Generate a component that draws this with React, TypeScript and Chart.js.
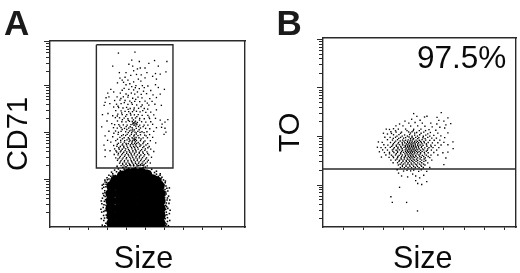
import React, { useEffect, useRef } from "react";
import { Chart, registerables } from "chart.js";

Chart.register(...registerables);

type P = [number, number];

const panelLetters = ["A", "B"];
const yLabels = ["CD71", "TO"];
const xLabel = "Size";
const xLabelCenters = [49.2, 49.5];
const percentLabel = "97.5%";
const percentPos: P = [91, 84];

const xTicks = [10, 20, 30, 40, 50, 60, 70, 80, 90];
const aYMinor = [7.6, 12.1, 15.2, 17.7, 19.7, 21.4, 22.9, 24.2, 25.3, 32.9, 37.4, 40.5, 43, 45, 46.7, 48.2, 49.5, 50.6, 58.2, 62.7, 65.8, 68.3, 70.3, 72, 73.5, 74.8, 75.9, 83.5, 88, 91.1, 93.6, 95.6, 97.3, 98.8, 100];
const aYMajor = [25.3, 50.6, 75.9, 100];
const bYMinor = [4.3, 8.8, 12, 14.4, 16.4, 18.1, 19.6, 20.9, 22.2, 30, 34.5, 37.7, 40.1, 42.1, 43.8, 45.3, 46.6, 47.9, 55.7, 60.2, 63.4, 65.8, 67.8, 69.5, 71, 72.3, 73.6, 81.4, 85.9, 89.1, 91.5, 93.5, 95.2, 96.7, 98, 99.3];
const bYMajor = [22.2, 47.9, 73.6, 99.3];

const aGate: P[] = [[24.4, 98], [64.7, 98], [64.7, 31.7], [24.4, 31.7], [24.4, 98]];
const bGate: P[] = [[0, 30.7], [96, 30.7]];

const aBlobCore: P[] = [
  [32.5,2],[36.5,2],[40,2],[44,2],[48,2],[52,2],[55,2],[58,2],
  [32.5,6],[36.5,6],[40,6],[44,6],[48,6],[52,6],[55,6],[58,6],
  [32,10],[36.5,10],[40,10],[44,10],[48,10],[52,10],[55,10],[58,10],
  [32,14],[36.5,14],[40,14],[44,14],[48,14],[52,14],[55,14],[58,14],
  [32,18],[36.5,18],[40,18],[44,18],[48,18],[52,18],[55,18],[58,18],
  [32.5,22],[36.5,22],[40,22],[44,22],[48,22],[52,22],[55,22],[57.5,22],
  [34.5,25],[38,25.5],[42,25.5],[46,25.5],[50,25.5],[54,25.5],[56,24.5],
  [38,27.5],[41,28.5],[44.5,29],[48,29],[51,28],
];
const aBlobEdge: P[] = [
  [27.5,1],[28.3,3.5],[29.4,2],[30,5],[28.2,6.2],[27.2,8],[29,8.8],[30.3,7.5],[28,10.5],[27.3,12.5],[29.5,11.7],[28.6,13.8],[30.2,13.2],[27.6,15.5],[29,16.4],[30.4,16],[27.9,18],[28.8,19.5],[30,19],[27.5,20.7],[29.4,21.6],[30.6,21],[28.2,23],[29.8,24],[30.8,23.4],[28.9,25.2],[31,25.8],[30,26.5],[32,27.3],[31,27.8],[33,28.6],[32.4,29.5],[34.3,27.7],[35,29.7],[34,30.6],[36.2,28.5],[37,30.3],[36,31.2],[38,29.4],[39,31],[38.3,32],[35.3,32.6],[40,32.4],[41.5,31.6],[43,31.2],[45,32],[47.2,31.5],[49,31.9],[51,30.3],[52.5,29.8],[53.5,31],[55,29.3],[56,28.4],[54.6,27.6],[57,27.2],[58,28.6],[56,30],[58.4,26],[59.7,25.3],[60.6,23.8],[59,24],[61,22],[59.5,21.7],[60.5,20.2],[62,19.4],[59.7,18.6],[61.1,17.7],[62.4,16.6],[60.3,15.7],[61.6,14.5],[59.8,13.6],[62.6,12.7],[60.9,11.6],[62,10],[59.9,9.4],[61.2,8],[62.8,7.2],[60.4,6.3],[61.8,5],[63,3.5],[60,3],[61.3,1.6],[62.3,0.7],[59.5,0.8],
  [27,4.5],[26.8,9.5],[27,14],[27.5,22.5],[62.8,21],[63,14.5],[63.2,9],[30.6,10],[31,3.2],[31,17.2],[59.2,16.5],[59.5,7],[58.9,11.5],
  [28.9,0.7],[30.5,2.6],[28.7,4.8],[29.6,6.4],[30.8,5.9],[28.3,8.3],[29.8,10],[30.9,11.7],[28.4,12],[29.2,14.7],[30.9,14.8],[28.3,16.9],[30.1,17.6],[28.9,18.4],[30.9,19.8],[28.3,21.4],[29.5,23],[31.2,22.4],[29,24.2],[30.2,25.4],[31.8,24.8],[32.5,26.2],[33.5,26.5],[33.2,27.7],
  [60.9,0.8],[60.5,2.2],[61.8,3],[60.6,4.4],[60,5.4],[61.5,6.6],[60.1,7.7],[60.9,9.5],[61.4,10.9],[60.1,11.1],[61.2,12.9],[60.2,14.4],[61.8,15.6],[60.4,17],[60.9,18.8],[61.5,20.8],[60,22.6],[60.7,24.7],[58.9,26.7],[57.9,27.8],
  [37.7,28.2],[39.2,29.8],[40.9,30.3],[42.3,30.8],[44.3,31],[46.2,30.7],[48,30.6],[49.8,30.8],[50.5,29.7],[44,33],[46.5,33],[42,33.4],[48.5,33.2],[50.2,32.2],
];
const aSparse: P[] = [
  [36,93.5],[44.7,94],[33,86.5],[43,89.7],[47,89],[61.5,89],[55,89.5],[52,88],[41.5,87.5],[43.5,86.5],[46,85],[50,85.5],[57,86.5],[47.5,85.5],[44,84],[61,83.4],[36.5,83],[40,83],[39.5,80.5],[42.5,81.5],[45.5,82],[48,81.8],[51,83],[55.5,82.5],[58,82.2],
  [36.8,80],[38,79],[41,79],[46.5,79.5],[50,80.2],[54,81],[56,79.5],[44,78],[47.8,78.4],[35.5,77.5],[40,76.5],[42,77],[43,75.5],[45.2,76],[48.6,76],[51.5,75.8],[55.5,76.5],[57,75],[39,74.5],[38,73.5],[41.5,74],[44,73.7],[47,74.4],[46,72.6],[49.2,73],[53,73.4],[32,74],[30.4,72],[60.2,74],[33.5,72.6],[37,72],[40,71.5],[42.8,72],[44.6,71.4],[48,71.3],[50.8,71.7],[54.2,71],[58,71.4],
  [29.5,69.5],[31,70],[35.3,70],[38.6,70],[41,69.8],[43.5,69.2],[46.3,69.8],[48.4,69.4],[52.5,69],[56,69.6],[34,68],[36.8,68.2],[39.5,68],[42,67.7],[44.6,67.5],[47.2,67.4],[50,67.7],[53.7,67.5],[29,67],[28.5,65.4],[31.5,66.3],[35,66],[37.4,66.3],[41,65.9],[43.3,65.9],[45.6,65.6],[48.5,65.6],[52,65.5],[55.2,66],[58.6,65.4],
  [33.5,64.5],[36.1,64.2],[38.4,64],[40.3,64.3],[42.2,63.7],[44.3,64],[46.6,63.8],[49.6,63.7],[51.4,63.4],[56,63],[34.6,62.6],[37.4,62.4],[39.5,62.2],[41.4,62],[43.4,62],[45.5,62.2],[47.4,61.9],[50.4,61.6],[53,61.8],[35.7,60.7],[38,60.4],[40.4,60.4],[42.5,60.2],[44.4,60.3],[46.4,60.4],[48.5,60],[51.5,60],[54.6,60.3],[27.6,60.4],[30.5,61],[33,59.8],
  [34.4,58.8],[36.6,58.7],[39,58.5],[41,58.2],[43.2,58.6],[45,58.6],[47.2,58.4],[49.6,58.2],[52.4,58.3],[55.5,58.4],[58,57.5],[30,57],[35.5,57],[37.8,56.6],[40,56.5],[41.8,56.8],[43.3,56.7],[44.2,56],[45,56.9],[46,56.2],[48.2,56.6],[50.4,56.4],[53,56.6],[62,57.7],[32.5,55.6],[34,55],[36.2,55],[38.6,54.9],[40.6,54.8],[42.6,55],[43.6,55.4],[44.7,55.3],[45.7,55.1],[47.2,54.8],[49.5,54.8],[51.5,54.8],[54,55.2],[59,55.3],[60.5,56.4],[27.2,53.8],[33.4,53.4],[35.4,53.2],[37.4,53.4],[39.2,53],[41.4,53.2],[43.2,53.4],[45.4,53],[47.6,53.2],[50.3,53],[52.5,52.8],[56,53.4],[58.7,53.6],[60.5,53.1],
  [31,51.5],[34.5,51.6],[37.4,51.4],[39.8,51.2],[41.8,51.6],[43.6,51.6],[44.7,51],[46.2,51.4],[48.4,51.2],[51,51.2],[54.6,51.4],[61,51],[35.8,49.8],[38.6,49.6],[40.6,49.8],[42.8,49.8],[44.4,49.5],[45.4,49.9],[47.6,49.6],[49.8,49.4],[52.4,49.7],[60,49.8],[29,49],[33,48.5],[36.8,48.2],[39,48],[41.2,48],[43.2,48],[44.4,47.8],[45.3,48.1],[46.8,48],[49,47.9],[51.3,48],[54,48.2],[30.3,46.6],[34.6,46.4],[37.2,46.6],[39.3,46.4],[40.5,46.8],[42.1,46.5],[43.4,46.3],[44.3,46.6],[45.5,46.5],[47.6,46.4],[50,46.3],[52.8,46.4],[32,45.6],[36,45],[38.3,44.7],[40,45],[41.2,44.8],[43,44.9],[44.5,45],[45.6,44.9],[47,44.7],[48.9,44.9],[51.4,44.8],[55.6,45.2],
  [28.4,44],[33.5,43.8],[35.2,43.4],[37,43.3],[38.8,43.4],[40.5,43.5],[42.3,43.5],[44,43.3],[45.4,43.5],[47.3,43.4],[49.4,43.3],[52.2,43.3],[34,42],[36.4,41.8],[38,41.8],[39.8,42],[41.3,41.7],[43.1,42],[44.8,41.8],[46.4,41.9],[48.2,41.6],[50.2,42],[53,41.9],[29,41.4],[31.6,41],[35.1,40.3],[37,40.4],[38.8,40.2],[40.4,40.4],[42,40.2],[43.6,40.4],[45.3,40.3],[47,40.2],[48.8,40.3],[51,40.4],[54.6,40.6],[33.8,39],[35.8,38.8],[37.7,38.8],[39.6,38.8],[41.1,39],[42.8,38.8],[44.3,38.8],[46,38.8],[47.8,38.7],[49.8,38.9],[52,38.8],
  [29,37.8],[34.6,37.2],[36.6,37.2],[38.5,37.2],[40.3,37.3],[42,37.4],[43.6,37.3],[45.2,37.2],[47,37.2],[48.7,37.3],[50.8,37.2],[53.4,37.5],[35.5,35.8],[37.4,35.7],[39.2,35.7],[41,35.8],[42.7,35.7],[44.2,35.9],[45.9,35.7],[47.7,35.7],[49.6,35.7],[51.7,35.9],[36.6,34.3],[38.2,34.2],[40,34.3],[41.6,34.2],[43.4,34.4],[45,34.2],[46.6,34.3],[48.4,34.2],[50.3,34.3],[52.8,34.4],[37.4,33],[39,32.9],[40.8,33],[42.5,32.9],[44,33],[45.8,32.8],[47.4,33],[49.2,32.9],[51.2,32.9],
];
const aSparseExtra: P[] = [
  [38.7,77.8],[44.9,74.9],[41.2,70.8],[49.6,74.9],[37.3,69.1],[45.1,68.6],[42.9,66.8],[39.1,66.9],[51.2,66.6],[35.8,64.9],[47.9,64.7],[44.1,62.9],[41.1,63.2],[37.7,61.3],[48.8,62.6],[42.3,61.1],[45.7,59.3],[39.8,59.5],[35.4,59.7],[52.1,59.1],[43.9,57.6],[41.2,57.3],[47.1,57.5],[38.1,57.7],[44.6,56.4],[43.8,55.9],[45.3,55.7],[44.2,54.6],[45.1,54.2],[42.2,53.9],[46.6,54],[40.1,54],[36.7,54.2],[49,54],
  [43.5,52.6],[44.4,52.2],[42.6,52.1],[46.9,52.3],[40.4,52.4],[38,52.4],[36,50.9],[41.2,50.7],[43,50.8],[45.4,50.6],[47.4,50.9],[49.5,50.7],[33.6,50.4],[44.1,48.9],[42,49],[46.3,49.1],[39.8,49.2],[37.7,49.1],[50.6,49],[43.7,47.4],[45,47.1],[44.4,46.9],[41.7,47.3],[47.9,47.3],[38.1,47.4],[35.5,47.2],[43.2,45.7],[44.9,45.8],[41.6,45.9],[39.1,45.6],[46.4,45.5],[49.3,45.7],[37.2,45.6],[43.7,44.3],[45,44.2],[42.3,44.2],[40.2,44.3],[47.8,44.1],[38,44.1],[35.4,44.4],[50.5,44.1],
  [42.9,42.8],[44.5,42.7],[46.1,42.8],[40.9,42.7],[38.9,42.6],[36.2,42.6],[48.8,42.7],[51.5,42.6],[43.6,41.1],[45.2,41.1],[41.7,41],[39.5,41.1],[37.4,41],[47.6,41],[49.9,41.2],[34.7,41],[44.5,39.6],[42.6,39.6],[40.3,39.6],[46.9,39.6],[38.2,39.5],[36,39.6],[49.1,39.6],[51.4,39.5],[43.3,38.1],[45.3,38],[41.4,38.2],[39.2,38],[47.1,38],[37,38],[49.4,38.1],[44.1,36.5],[42.4,36.6],[46,36.5],[40.1,36.6],[38,36.5],[48.1,36.5],[50.3,36.5],[35.8,36.6],[43,35.1],[44.9,35],[41,35],[39.1,35],[46.9,35],[37,35],[48.9,35],[51.2,35],[43.9,33.7],[45.7,33.6],[41.9,33.6],[40,33.7],[47.6,33.6],[49.5,33.6],[38.3,33.5],
];
const bCloud: P[] = [
  [33.7,16],[34.4,13],[41.5,13],[46.9,8.5],[38,21],[42,26.5],[39,27],[37.5,28.5],[46,24.5],[47,23],[49,22.5],[51.5,24],[48,26],[46,27],[44.5,28],[50,27.4],[51.5,29.4],[43.5,29.7],[40,29.6],[47.5,29.4],
  [45,60],[58.7,60.5],[46.6,58.5],[50.4,58.2],[51.6,58.6],[56.6,58],[62,57.7],[60,56],[44,57],[48.2,56.5],[57.5,56.4],[63.4,54.7],[61,54],[40.7,56],[42.6,55],[45.7,55.3],[49.3,55],[53.5,55],[56.5,54.5],[38,54.5],[36.2,53.5],[39.7,53.5],[43.5,53.4],[47,53.5],[50.6,53.3],[54.2,53],[58,52.8],[60.4,52.4],
  [31.4,51.8],[33,51.6],[35,52],[37.4,51.8],[41,51.8],[45,51.7],[48.6,51.8],[52.6,51.5],[56,51.2],[33.7,50.4],[36.3,50.2],[39,50.2],[42.5,50.3],[44.2,50.4],[46.5,50],[50,50.2],[53.3,50],[57,49.7],[62,49.8],[30,49.6],[32,49.2],[35,48.8],[37.7,48.9],[40.5,48.7],[43,48.9],[45.5,48.6],[48,48.8],[51,48.6],[55,48.5],[58.5,48.2],
  [30.7,47.5],[33.3,47.4],[36,47.5],[38.5,47.4],[41,47.3],[42.7,47.6],[44.2,47.2],[46,47.4],[47.6,47.3],[49.6,47.2],[52,47.4],[54,47],[56.3,47],[60.4,47.3],[32,46.2],[34.5,46],[37,46.2],[39.5,46],[41,45.9],[42.3,46.1],[43.5,46],[44.7,46.2],[46.2,46],[47.8,45.9],[49.2,46.2],[51,46],[53,45.8],[55.2,45.9],[58,46],
  [27.5,45],[29.4,44.8],[33.5,44.7],[35.5,44.8],[37.5,44.7],[39.3,44.8],[40.6,44.6],[42,44.8],[43,44.6],[44.1,44.7],[45.2,44.6],[46.3,44.8],[47.5,44.6],[48.8,44.7],[50.3,44.6],[52.2,44.7],[54.3,44.5],[57,44.6],[60,44.8],[64.5,45],
  [30.2,43.5],[32.2,43.3],[34.6,43.4],[36.4,43.3],[38,43.5],[39.6,43.4],[40.8,43.2],[41.8,43.4],[42.8,43.2],[43.8,43.4],[44.8,43.2],[45.8,43.4],[47,43.2],[48.2,43.4],[49.7,43.2],[51.4,43.4],[53.5,43.3],[55.6,43.2],[58.6,43.4],[62,43.5],
  [27,42.2],[28.8,42],[31,42],[33.4,42.1],[35.4,42],[37.2,42.2],[38.8,42],[40.2,42.1],[41.2,41.9],[42.2,42.1],[43.2,41.9],[44.2,42.1],[45.2,41.9],[46.2,42.1],[47.4,41.9],[48.8,42.1],[50.5,41.9],[52.6,42],[54.6,42],[57.5,42],[64.6,41.5],
  [29.6,40.8],[32,40.7],[34.4,40.8],[36.3,40.6],[38,40.8],[39.5,40.6],[40.8,40.8],[41.8,40.6],[42.8,40.8],[43.8,40.6],[44.8,40.8],[45.8,40.6],[47,40.8],[48.4,40.6],[50,40.8],[51.8,40.6],[53.8,40.7],[56.4,40.7],
  [28,39.8],[30.5,39.4],[33,39.5],[35.2,39.4],[37,39.5],[38.6,39.3],[40,39.5],[41.4,39.3],[42.4,39.5],[43.4,39.3],[44.4,39.5],[45.6,39.3],[47,39.5],[48.5,39.3],[50.3,39.5],[52.2,39.3],[55,39.4],[59.5,39.3],[62,39.6],
  [31.2,38.1],[34,38],[36,38.1],[37.8,37.9],[39.4,38.1],[41,37.9],[42.2,38.1],[43.4,37.9],[44.6,38.1],[46,37.9],[47.6,38.1],[49.3,37.9],[51.3,38],[53.6,38],[57,38.1],
  [29,37],[32.8,36.8],[35,36.7],[37,36.8],[38.7,36.6],[40.3,36.8],[41.7,36.6],[43,36.8],[44.2,36.6],[45.4,36.8],[47,36.6],[48.8,36.8],[50.8,36.6],[53,36.7],[61,36.5],
  [33.7,35.4],[36,35.4],[38,35.3],[39.7,35.4],[41.3,35.2],[42.7,35.4],[44,35.2],[45.4,35.4],[47,35.2],[49,35.4],[51,35.2],[54,35.4],[34.8,34],[37,34],[39,34],[40.7,33.9],[42.2,34],[43.7,33.9],[45.2,34],[47,33.9],[49,34],[52,33.9],[37.4,32.8],[39.4,32.7],[41.2,32.7],[43,32.8],[44.7,32.7],[46.5,32.8],[48.6,32.7],[50.6,32.8],[60,33],[38.4,31.5],[40.4,31.4],[42.2,31.5],[44,31.4],[45.8,31.5],[47.7,31.4],[49.8,31.5],[53,31.5],
];
const bCloudExtra: P[] = [
  [41.9,45.3],[43.1,45.4],[44.3,45.4],[45.5,45.3],[46.9,45.3],[40.2,45.4],[38.3,45.5],[36.1,45.4],[48.4,45.3],[50.1,45.3],[41.4,44],[42.5,44],[43.6,44],[44.6,44],[45.8,44],[47,43.9],[39.4,44],[37.2,44],[35,44.1],[49.2,44],[51.3,44],
  [40.9,42.6],[42,42.6],[43,42.6],[44,42.7],[45,42.6],[46.1,42.6],[47.4,42.6],[38.6,42.7],[36.4,42.7],[49,42.7],[51.6,42.7],[53.7,42.6],[34.1,42.7],[41.3,41.3],[42.4,41.3],[43.3,41.3],[44.3,41.3],[45.3,41.3],[46.4,41.3],[47.8,41.3],[39.3,41.4],[37.2,41.4],[35,41.3],[49.4,41.3],[52,41.3],
  [41,40],[42.1,40],[43.2,40],[44.2,40],[45.2,40],[46.4,40],[47.7,39.9],[39,40],[37,40.1],[34.7,40],[49.2,40],[51.3,40.1],[40.6,38.7],[41.8,38.7],[43,38.7],[44,38.7],[45.2,38.7],[46.7,38.7],[48.3,38.7],[38.5,38.7],[36.4,38.8],[50.5,38.7],[33,38.7],
  [42.4,37.3],[43.7,37.3],[44.8,37.3],[46.2,37.2],[40.8,37.3],[39,37.3],[37.2,37.3],[48,37.3],[50,37.3],[52.2,37.3],[34.7,37.4],[42,35.9],[43.4,36],[44.8,35.9],[46.4,35.9],[40.4,36],[38.8,36],[36.7,36],[48.2,36],[50.2,36],
  [43,34.7],[44.6,34.7],[46.2,34.7],[41.4,34.7],[39.7,34.7],[37.7,34.7],[48.2,34.6],[50.1,34.7],[42.1,33.3],[44,33.3],[45.9,33.3],[40,33.3],[38.3,33.2],[47.9,33.3],[49.9,33.3],[43.2,32],[45,32],[41.2,32.1],[46.9,32],[39.4,32],[48.9,32.1],[36.8,30.3],[41.7,30],[45,30.1],[48.8,30.2],
  [36,50.9],[41.7,51],[44.8,51],[47.8,51],[50.9,51],[38.5,49.6],[43.4,49.7],[45.5,49.7],[48.7,49.6],[34,49.5],[52,49.3],[39.3,48.1],[41.9,48.1],[44.2,48],[46.9,48.1],[49.8,48],[36.7,48.1],[53,48.1],[40,47],[43.4,46.8],[45,46.8],[47,46.8],[50.7,46.8],[37.6,46.9],[34.9,46.9],
];

const POINT_BLACK = "#000";
const LINE_DARK = "#2a2a2a";
const TEXT_DARK = "#0a0a0a";

function logTicks(values: number[]) {
  return (scale: any) => {
    scale.ticks = values.map((value) => ({ value }));
  };
}

function axisBase(tickLength: number) {
  return {
    border: { display: true, color: LINE_DARK, width: 1.4 },
    grid: { display: true, drawOnChartArea: false, drawTicks: true, tickLength, tickColor: LINE_DARK, tickWidth: 1 },
    ticks: { display: false },
  };
}

function hiddenEdge(position: string) {
  return {
    position,
    min: 0,
    max: 100,
    border: { display: true, color: LINE_DARK, width: 1.4 },
    grid: { display: false, drawTicks: false },
    ticks: { display: false },
    afterBuildTicks: logTicks([]),
    afterFit: (s: any) => {
      if (position === "right") s.width = 0;
      else s.height = 0;
    },
  };
}

function makePanel(
  canvas: HTMLCanvasElement,
  o: {
    letter: string;
    yLabel: string;
    xMax: number;
    xLabelCenter: number;
    yMinor: number[];
    yMajor: number[];
    sets: { data: P[]; radius: number; style: string }[];
    gate: P[];
    padding: any;
    titleGap: number;
    letterHeight: number;
    note?: { text: string; pos: P };
  },
) {
  const datasets: any[] = o.sets.map((s) => ({
    data: s.data.map(([x, y]) => ({ x, y })),
    pointRadius: s.radius,
    pointStyle: s.style,
    pointBackgroundColor: POINT_BLACK,
    pointBorderWidth: 0,
  }));
  datasets.push({
    data: o.gate.map(([x, y]) => ({ x, y })),
    showLine: true,
    pointRadius: 0,
    borderColor: LINE_DARK,
    borderWidth: 1.4,
  });
  return new Chart(canvas, {
    type: "scatter",
    data: { datasets },
    plugins: [
      {
        id: "panelText",
        afterDatasetsDraw(chart: any) {
          const { ctx, scales, chartArea } = chart;
          ctx.save();
          ctx.fillStyle = TEXT_DARK;
          ctx.textBaseline = "alphabetic";
          ctx.font = '30.5px "Liberation Sans"';
          ctx.textAlign = "center";
          ctx.fillText(xLabel, scales.x.getPixelForValue(o.xLabelCenter), chartArea.bottom + 41);
          if (o.note) {
            ctx.font = '31.5px "Liberation Sans"';
            ctx.textAlign = "right";
            ctx.fillText(o.note.text, scales.x.getPixelForValue(o.note.pos[0]), scales.y.getPixelForValue(o.note.pos[1]));
          }
          ctx.restore();
        },
      },
    ],
    options: {
      animation: false,
      responsive: false,
      layout: { padding: o.padding },
      plugins: {
        legend: { display: false },
        tooltip: { enabled: false },
        title: {
          display: true,
          text: o.letter,
          align: "start",
          color: "#1a1a1a",
          font: { family: '"Liberation Sans"', size: 35, weight: "bold", lineHeight: o.letterHeight / 35 },
          padding: { top: 0, bottom: 0 },
        },
      },
      scales: {
        x: {
          ...axisBase(3),
          type: "linear",
          min: 0,
          max: o.xMax,
          afterBuildTicks: logTicks(xTicks),
        },
        y: {
          ...axisBase(4),
          type: "linear",
          min: 0,
          max: 100,
          afterBuildTicks: logTicks(o.yMinor),
          title: { display: false },
        },
        yDecades: {
          type: "linear",
          position: "left",
          min: 0,
          max: 100,
          border: { display: false },
          grid: { display: true, drawOnChartArea: false, drawTicks: true, tickLength: 2, tickColor: LINE_DARK },
          ticks: { display: false },
          afterBuildTicks: logTicks(o.yMajor),
          title: {
            display: true,
            text: o.yLabel,
            color: TEXT_DARK,
            font: { family: '"Liberation Sans"', size: 29, lineHeight: 1 },
            padding: { top: 0, bottom: o.titleGap },
          },
        },
        xTop: hiddenEdge("top"),
        yRight: hiddenEdge("right"),
      },
    } as any,
  });
}

export default function App() {
  const aRef = useRef<HTMLCanvasElement>(null);
  const bRef = useRef<HTMLCanvasElement>(null);
  useEffect(() => {
    document.body.style.margin = "0";
    const a = makePanel(aRef.current!, {
      letter: panelLetters[0],
      yLabel: yLabels[0],
      xMax: 102.6,
      xLabelCenter: xLabelCenters[0],
      yMinor: aYMinor,
      yMajor: aYMajor,
      sets: [
        { data: aBlobCore, radius: 5.4, style: "circle" },
        { data: aBlobEdge, radius: 1.1, style: "rect" },
        { data: aSparse, radius: 0.95, style: "rect" },
        { data: aSparseExtra, radius: 0.95, style: "rect" },
      ],
      gate: aGate,
      padding: { left: 4, right: 15, top: 10, bottom: 43 },
      titleGap: 11,
      letterHeight: 31,
    });
    const b = makePanel(bRef.current!, {
      letter: panelLetters[1],
      yLabel: yLabels[1],
      xMax: 95.8,
      xLabelCenter: xLabelCenters[1],
      yMinor: bYMinor,
      yMajor: bYMajor,
      sets: [
        { data: bCloud, radius: 0.95, style: "rect" },
        { data: bCloudExtra, radius: 0.95, style: "rect" },
      ],
      gate: bGate,
      padding: { left: 16.5, right: 2, top: 12, bottom: 43 },
      titleGap: 11.5,
      letterHeight: 26,
      note: { text: percentLabel, pos: percentPos },
    });
    return () => {
      a.destroy();
      b.destroy();
    };
  }, []);
  return (
    <div style={{ position: "absolute", left: 0, top: 0, width: 520, height: 273, background: "#fff", overflow: "hidden" }}>
      <canvas ref={aRef} width={260} height={273} style={{ position: "absolute", left: 0, top: 0 }} />
      <canvas ref={bRef} width={260} height={273} style={{ position: "absolute", left: 260, top: 0 }} />
    </div>
  );
}
